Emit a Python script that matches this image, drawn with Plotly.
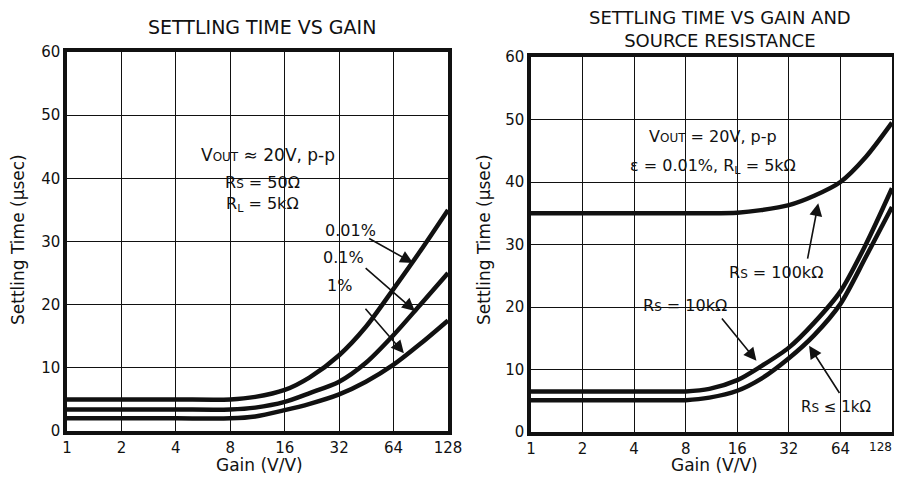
import numpy as np
import plotly.graph_objects as go

# ---------------- data ----------------
gain = [1, 2, 4, 8, 11, 16, 22, 32, 45, 64, 90, 128]

# left chart: settling time vs gain (accuracy)
t_001 = [5.0, 5.0, 5.0, 5.0, 5.4, 6.5, 8.5, 12.0, 16.5, 22.5, 28.5, 35.0]
t_01 = [3.4, 3.4, 3.4, 3.4, 3.7, 4.6, 6.0, 7.8, 10.8, 15.2, 20.0, 25.0]
t_1 = [2.0, 2.0, 2.0, 2.0, 2.3, 3.3, 4.3, 5.8, 7.8, 10.5, 13.8, 17.5]

# right chart: settling time vs gain and source resistance
t_100k = [35.0, 35.0, 35.0, 35.0, 35.0, 35.1, 35.5, 36.3, 37.8, 40.0, 44.0, 49.5]
t_10k = [6.5, 6.5, 6.5, 6.5, 6.9, 8.3, 10.5, 13.5, 17.5, 22.5, 30.0, 39.0]
t_1k = [5.1, 5.1, 5.1, 5.1, 5.5, 6.6, 8.5, 11.8, 15.5, 20.5, 28.0, 36.0]

x_ticks = [1, 2, 4, 8, 16, 32, 64, 128]
x_ticktext = ["1", "2", "4", "8", "16", "32", "64", "128"]
x_ticktext_r = ["1", "2", "4", "8", "16", "32", "64", ""]
y_ticks = [0, 10, 20, 30, 40, 50, 60]

FONT = "DejaVu Sans, Liberation Sans, sans-serif"
BLACK = "#111111"
OFF = 8               # the page body adds an 8px margin on every side
W, H = 902 - 2 * OFF, 484 - 2 * OFF


def px(x):
    return (x - OFF) / W


def py(y):
    return 1 - (y - OFF) / H


fig = go.Figure()

def add_line(xs, ys, xa, ya):
    fig.add_trace(go.Scatter(x=xs, y=ys, mode="lines", xaxis=xa, yaxis=ya,
                             line=dict(color=BLACK, width=4.5, shape="spline", smoothing=0.8),
                             showlegend=False, hoverinfo="skip"))

for s in (t_001, t_01, t_1):
    add_line(gain, s, "x", "y")
for s in (t_100k, t_10k, t_1k):
    add_line(gain, s, "x2", "y2")

axis_common = dict(showline=True, linewidth=3.5, linecolor=BLACK, mirror=True,
                   showgrid=True, gridcolor=BLACK, gridwidth=1, zeroline=False,
                   ticks="", tickfont=dict(family=FONT, size=15, color=BLACK))

lx = np.log10(128)
fig.update_layout(
    width=W, height=H,
    margin=dict(l=0, r=0, t=0, b=0, autoexpand=False),
    paper_bgcolor="white", plot_bgcolor="white",
    font=dict(family=FONT, color=BLACK),
    xaxis=dict(domain=[px(67), px(448)], type="log", range=[0, lx], tickvals=x_ticks,
               ticktext=x_ticktext, anchor="y", **axis_common),
    yaxis=dict(domain=[py(431), py(52)], range=[0, 60], tickvals=y_ticks, anchor="x",
               **axis_common),
    xaxis2=dict(domain=[px(531), px(892)], type="log", range=[0, lx], tickvals=x_ticks,
                ticktext=x_ticktext_r, anchor="y2", **axis_common),
    yaxis2=dict(domain=[py(432), py(57)], range=[0, 60], tickvals=y_ticks, anchor="x2",
                **axis_common),
)

L = np.log10
ann = []

def txt(x, y, text, xref, yref, size=16, **kw):
    d = dict(x=x, y=y, text=text, xref=xref, yref=yref, showarrow=False,
             xanchor="center", yanchor="middle",
             font=dict(family=FONT, size=size, color=BLACK))
    d.update(kw)
    ann.append(d)

def arrow(x, y, ax, ay, xref, yref):
    ann.append(dict(x=L(x), y=y, ax=L(ax), ay=ay, xref=xref, yref=yref,
                    axref=xref, ayref=yref, text="", showarrow=True,
                    arrowhead=2, arrowsize=1.6, arrowwidth=1.6, arrowcolor=BLACK))

small = "<span style='font-size:12px'>%s</span>"

# titles
txt(px(262), py(27), "SETTLING TIME VS GAIN", "paper", "paper", size=19)
txt(px(720), py(29), "SETTLING TIME VS GAIN AND<br>SOURCE RESISTANCE", "paper", "paper", size=18)

# axis titles
txt(px(18), py(240), "Settling Time (µsec)", "paper", "paper", size=17, textangle=-90)
txt(px(484), py(240), "Settling Time (µsec)", "paper", "paper", size=17, textangle=-90)
txt(px(259), py(465), "Gain (V/V)", "paper", "paper", size=17)
txt(px(714), py(465), "Gain (V/V)", "paper", "paper", size=17)
# 128 tick label of right chart (squeezed, as in the original)
txt(px(880), py(447), "128", "paper", "paper", size=12)

# left chart conditions
txt(L(12.9), 43.7, "V" + small % "OUT" + " ≈ 20V, p-p", "x", "y", size=17)
txt(L(12.0), 39.4, "R" + small % "S" + " = 50Ω", "x", "y")
txt(L(12.0), 35.8, "R<sub>L</sub> = 5kΩ", "x", "y")

# left chart curve labels
txt(L(37), 31.8, "0.01%", "x", "y")
arrow(82, 26.6, 46, 30.6, "x", "y")
txt(L(34), 27.4, "0.1%", "x", "y")
arrow(84, 19.0, 44, 26.0, "x", "y")
txt(L(32), 23.0, "1%", "x", "y")
arrow(73, 12.3, 44, 19.6, "x", "y")

# right chart conditions
txt(L(11.6), 47.2, "V" + small % "OUT" + " = 20V, p-p", "x2", "y2")
txt(L(11.6), 42.4, "ε = 0.01%, R<sub>L</sub> = 5kΩ", "x2", "y2")

# right chart curve labels
txt(L(27), 25.6, "R" + small % "S" + " = 100kΩ", "x2", "y2")
arrow(47.5, 36.6, 41, 27.5, "x2", "y2")
txt(L(7.9), 20.2, "R" + small % "S" + " = 10kΩ", "x2", "y2")
arrow(20.7, 11.4, 12.8, 18.4, "x2", "y2")
txt(L(60), 4.0, "R" + small % "S" + " ≤ 1kΩ", "x2", "y2", size=15)
arrow(42, 13.8, 64, 6.0, "x2", "y2")

fig.update_layout(annotations=ann)
fig.write_html("out.html")
